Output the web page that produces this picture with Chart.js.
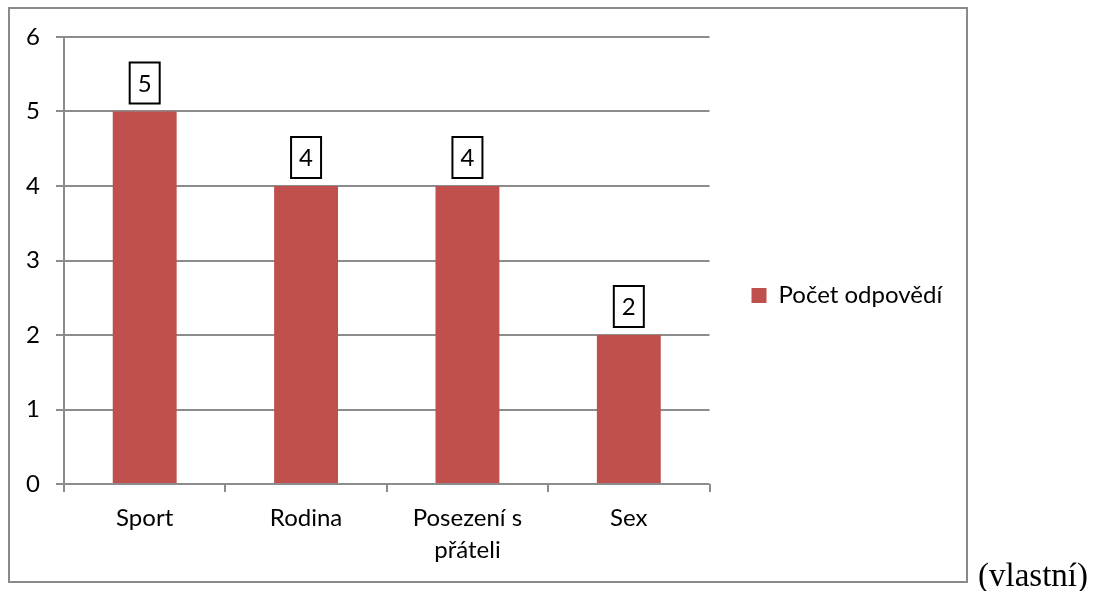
<!DOCTYPE html>
<html lang="cs">
<head>
    <meta charset="UTF-8">
    <title>Počet odpovědí</title>
    <script src="https://cdn.jsdelivr.net/npm/chart.js@4.4.0/dist/chart.umd.min.js"></script>
    <style>
        html, body { margin: 0; padding: 0; background: #fff; overflow: hidden; }
        #frame {
            position: absolute; left: 8px; top: 7px; width: 960px; height: 576px;
            box-sizing: border-box; border: 2px solid #8a8a8a;
        }
        #wrap { position: absolute; left: 0; top: 0; width: 1093px; height: 591px; }
        #note {
            position: absolute; left: 978px; top: 559px;
            font-family: "Liberation Serif", "DejaVu Serif", serif; font-size: 33px; line-height: 1;
            white-space: nowrap;
        }
    </style>
</head>
<body>
<div id="frame"></div>
<div id="wrap"><canvas id="chart" width="1093" height="591"></canvas></div>
<div id="note">(vlastní)</div>

<script>
    const categories = ['Sport', 'Rodina', ['Posezení s', 'přáteli'], 'Sex'];
    const answers = [5, 4, 4, 2];
    const seriesName = 'Počet odpovědí';
    const yTicks = [0, 1, 2, 3, 4, 5, 6];

    const FONT = 'Lato, Carlito, "Open Sans", sans-serif';
    const GRID = '#8c8c8c';

    // boxed value labels above each bar
    const valueBoxes = {
        id: 'valueBoxes',
        afterDatasetsDraw(chart) {
            const ctx = chart.ctx;
            const meta = chart.getDatasetMeta(0);
            ctx.save();
            ctx.font = '24px ' + FONT;
            ctx.textAlign = 'center';
            ctx.textBaseline = 'middle';
            meta.data.forEach((bar, i) => {
                const w = 30, h = 41;
                const bx = bar.x - w / 2;
                const by = bar.y - 8 - h;
                ctx.fillStyle = '#fff';
                ctx.fillRect(bx, by, w, h);
                ctx.strokeStyle = '#000';
                ctx.lineWidth = 2;
                ctx.strokeRect(bx, by, w, h);
                ctx.fillStyle = '#000';
                ctx.fillText(String(answers[i]), bar.x, by + h / 2 + 1);
            });
            ctx.restore();
        }
    };

    new Chart(document.getElementById('chart'), {
        type: 'bar',
        data: {
            labels: categories,
            datasets: [{
                label: seriesName,
                data: answers,
                backgroundColor: '#c0504d',
                barPercentage: 0.396,
                categoryPercentage: 1
            }]
        },
        options: {
            responsive: false,
            animation: false,
            layout: { padding: { top: 0, right: 147, bottom: 0, left: 0 } },
            plugins: {
                tooltip: { enabled: false },
                // empty spacer above the plot only, so the legend stays centred on the whole frame
                title: {
                    display: true,
                    text: ' ',
                    fullSize: false,
                    font: { size: 1, lineHeight: 1 },
                    padding: { top: 36, bottom: 0 }
                },
                legend: {
                    position: 'right',
                    labels: {
                        boxWidth: 15,
                        boxHeight: 15,
                        padding: 42,
                        color: '#000',
                        font: { family: FONT, size: 24 }
                    }
                }
            },
            scales: {
                x: {
                    grid: {
                        offset: true,
                        drawOnChartArea: false,
                        drawTicks: true,
                        tickLength: 8,
                        color: GRID,
                        lineWidth: 2
                    },
                    border: { display: false },
                    ticks: {
                        color: '#000',
                        padding: 11,
                        maxRotation: 0,
                        font: { family: FONT, size: 24, lineHeight: 1.3 }
                    },
                    afterFit(s) { s.height = 107; }
                },
                y: {
                    min: 0,
                    max: 6,
                    afterBuildTicks(s) { s.ticks = yTicks.map(v => ({ value: v })); },
                    grid: {
                        color: GRID,
                        lineWidth: 2,
                        drawTicks: true,
                        tickLength: 8
                    },
                    border: { display: true, color: GRID, width: 2 },
                    ticks: {
                        color: '#000',
                        padding: 16,
                        font: { family: FONT, size: 24 }
                    },
                    afterFit(s) { s.width = 64; }
                }
            }
        },
        plugins: [valueBoxes]
    });
</script>
</body>
</html>
